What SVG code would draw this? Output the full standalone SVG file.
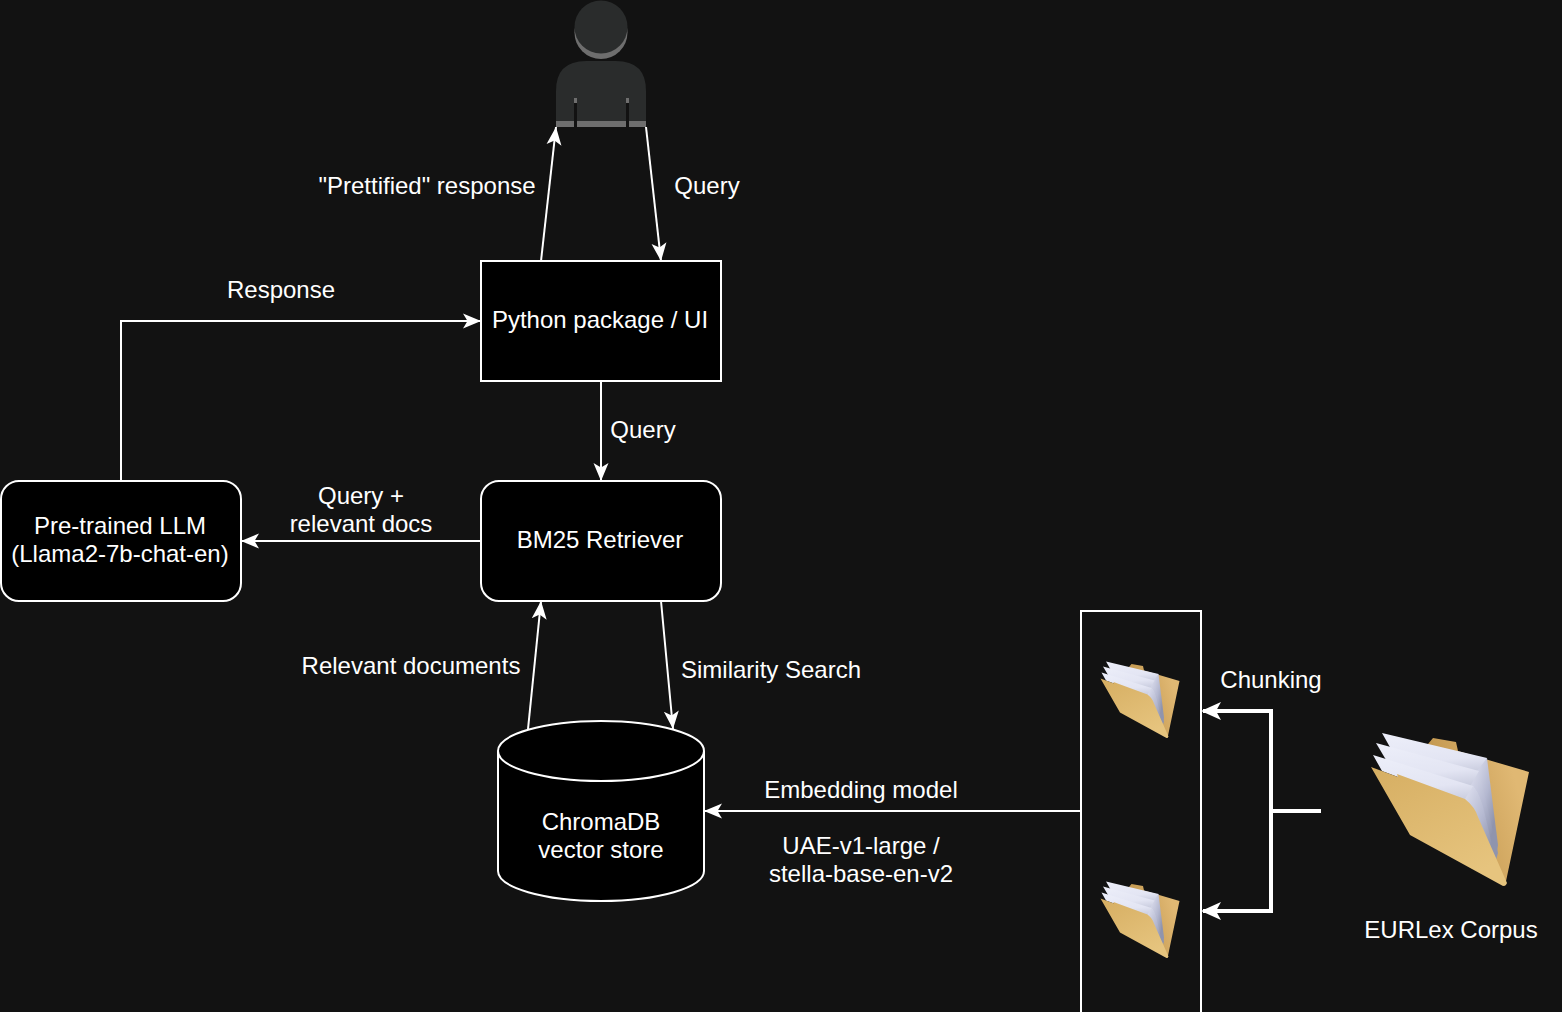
<svg xmlns="http://www.w3.org/2000/svg" xmlns:xlink="http://www.w3.org/1999/xlink" width="1562" height="1012" viewBox="0 0 1562 1012">
<style>
text{font-family:"Liberation Sans",Arial,sans-serif;font-size:24px;fill:#fff;text-anchor:middle}
.box{fill:#000;stroke:#fff;stroke-width:2}
.c{fill:none;stroke:#fff;stroke-width:2;marker-end:url(#a)}
.t{fill:none;stroke:#fff;stroke-width:4}
.p{fill:#2a2c2c}
.l{fill:#6e6e6e}
.face{fill:url(#pp)}
.edge{fill:url(#pe)}
</style>
<defs>
<marker id="a" markerUnits="userSpaceOnUse" markerWidth="20" markerHeight="20" refX="18" refY="10" orient="auto"><path d="M0 2.500L18 10L0 17.500L4.500 10Z" fill="#fff"/></marker>
<linearGradient id="f1" x1="0" y1="0" x2="0.6" y2="1"><stop offset="0" stop-color="#d6ae62"/><stop offset="1" stop-color="#e6c47e"/></linearGradient>
<linearGradient id="f2" x1="0" y1="1" x2="1" y2="0.6"><stop offset="0" stop-color="#8f6a2e"/><stop offset="0.45" stop-color="#c79c54"/><stop offset="1" stop-color="#e0b873"/></linearGradient>
<linearGradient id="pp" x1="0.3" y1="0" x2="0.5" y2="1"><stop offset="0" stop-color="#eceef9"/><stop offset="0.55" stop-color="#e3e5f3"/><stop offset="1" stop-color="#b9bdd2"/></linearGradient>
<linearGradient id="pe" x1="0" y1="0" x2="0.7" y2="0.8"><stop offset="0" stop-color="#dfe1f0"/><stop offset="0.6" stop-color="#b4b8d0"/><stop offset="1" stop-color="#8f94ad"/></linearGradient>
<g id="folder">
<path d="M1428 744L1433 738L1456 742L1458 751L1529 772L1505 886L1420 800Z" fill="url(#f2)"/>
<path class="face" d="M1382 733L1487 758L1478 785L1400 765Z"/>
<path class="edge" d="M1487 758L1498 845L1497 852L1474 775Z"/>
<path class="face" d="M1376 743L1479 771L1472 800L1392 770Z"/>
<path class="edge" d="M1479 771L1498 853L1496 860L1468 790Z"/>
<path class="face" d="M1373 755L1473 786Q1481 796 1484 815L1470 805L1398 777L1382 771Z"/>
<path class="edge" d="M1473 786Q1481 796 1485 815L1497 866L1497 872L1465 799Z"/>
<path d="M1371 767L1398 777L1397 774L1465 799Q1475 807 1478 817L1507 883Q1506 886 1503 886L1410 835Z" fill="url(#f1)"/>
</g>
<clipPath id="hc"><rect x="560" y="27" width="82" height="34"/></clipPath>
</defs>
<rect width="1562" height="1012" fill="#121212"/>
<g id="connectors">
<path class="c" d="M541 261L556 127"/>
<path class="c" d="M646 127L661 261"/>
<path class="c" d="M121 481V321H481"/>
<path class="c" d="M601 381V481"/>
<path class="c" d="M481 541H241"/>
<path class="c" d="M528 729L541 601"/>
<path class="c" d="M661 601L673 729"/>
<path class="c" d="M1081 811H704"/>
<path class="t" d="M1321 811H1271V711H1203"/>
<path class="t" d="M1271 811V911H1203"/>
<path d="M1201 711L1221 702L1216 711L1221 720Z M1201 911L1221 902L1216 911L1221 920Z" fill="#fff"/>
</g>
<g id="user">
<circle class="l" cx="601" cy="32.500" r="26.500" clip-path="url(#hc)"/>
<circle class="p" cx="601" cy="27" r="26.500"/>
<path class="p" d="M556 127V91Q556 61 586 61H616Q646 61 646 91V127Z"/>
<rect class="l" x="556" y="121" width="90" height="6"/>
<rect class="l" x="574" y="98" width="3" height="5"/>
<rect class="l" x="626" y="98" width="3" height="5"/>
<rect x="574" y="103" width="3" height="24" fill="#121212"/>
<rect x="626" y="103" width="3" height="24" fill="#121212"/>
</g>
<g id="python"><rect class="box" x="481" y="261" width="240" height="120"/><text x="600" y="328">Python package / UI</text></g>
<g id="retriever"><rect class="box" x="481" y="481" width="240" height="120" rx="18"/><text x="600" y="548">BM25 Retriever</text></g>
<g id="llm"><rect class="box" x="1" y="481" width="240" height="120" rx="18"/><text x="120" y="534">Pre-trained LLM</text><text x="120" y="562">(Llama2-7b-chat-en)</text></g>
<g id="chroma"><path class="box" d="M498 751A103 30 0 0 1 704 751V871A103 30 0 0 1 498 871Z"/><path class="box" d="M498 751A103 30 0 0 0 704 751" fill="none"/><text x="601" y="830">ChromaDB</text><text x="601" y="858">vector store</text></g>
<g id="chunks"><rect x="1081" y="611" width="120" height="420" fill="#121212" stroke="#fff" stroke-width="2"/>
<use xlink:href="#folder" href="#folder" transform="translate(1100.500 661.500) scale(.5) translate(-1371 -733)"/>
<use xlink:href="#folder" href="#folder" transform="translate(1100.500 881.500) scale(.5) translate(-1371 -733)"/></g>
<g id="corpus"><use xlink:href="#folder" href="#folder"/><text x="1451" y="938">EURLex Corpus</text></g>
<g id="labels">
<text x="427" y="194">"Prettified" response</text>
<text x="707" y="194">Query</text>
<text x="281" y="298">Response</text>
<text x="643" y="438">Query</text>
<text x="361" y="504">Query +</text>
<text x="361" y="532">relevant docs</text>
<text x="411" y="674">Relevant documents</text>
<text x="771" y="678">Similarity Search</text>
<text x="1271" y="688">Chunking</text>
<text x="861" y="798">Embedding model</text>
<text x="861" y="854">UAE-v1-large /</text>
<text x="861" y="882">stella-base-en-v2</text>
</g>
</svg>
